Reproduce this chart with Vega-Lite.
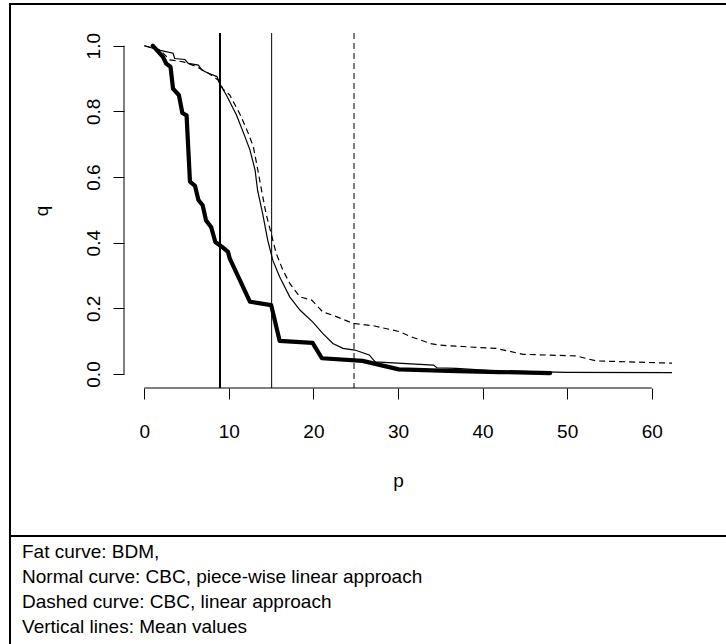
{
  "$schema": "https://vega.github.io/schema/vega-lite/v6.json",
  "width": 548,
  "height": 355,
  "autosize": {"type": "none"},
  "padding": {"left": 124, "top": 33, "right": 54, "bottom": 256},
  "background": "white",
  "config": {
    "view": {"stroke": null},
    "font": "Liberation Sans",
    "axis": {
      "domain": false,
      "grid": false,
      "tickColor": "black",
      "tickSize": 11,
      "tickWidth": 1,
      "labelColor": "black",
      "labelFont": "Liberation Sans",
      "labelFontSize": 19,
      "titleFont": "Liberation Sans",
      "titleFontSize": 19,
      "titleFontWeight": "normal",
      "titleColor": "black",
      "labelFlush": false,
      "labelOverlap": false
    }
  },
  "datasets": {
    "bdm": [{"p":1.0,"q":1.0},{"p":2.2,"q":0.966},{"p":2.6,"q":0.945},{"p":3.1,"q":0.936},{"p":3.4,"q":0.869},{"p":4.1,"q":0.849},{"p":4.5,"q":0.795},{"p":5.0,"q":0.788},{"p":5.4,"q":0.586},{"p":6.0,"q":0.573},{"p":6.4,"q":0.53},{"p":6.9,"q":0.514},{"p":7.3,"q":0.468},{"p":7.9,"q":0.448},{"p":8.4,"q":0.402},{"p":9.2,"q":0.387},{"p":9.9,"q":0.372},{"p":10.1,"q":0.352},{"p":12.5,"q":0.22},{"p":15.0,"q":0.21},{"p":16.0,"q":0.101},{"p":19.9,"q":0.095},{"p":21.0,"q":0.048},{"p":25.8,"q":0.04},{"p":30.1,"q":0.014},{"p":37,"q":0.009},{"p":42,"q":0.006},{"p":48,"q":0.003}],
    "pwl": [{"p":0,"q":1.0},{"p":1.9,"q":0.986},{"p":3.4,"q":0.977},{"p":3.6,"q":0.961},{"p":4.8,"q":0.958},{"p":5.2,"q":0.946},{"p":6.4,"q":0.941},{"p":6.8,"q":0.926},{"p":7.6,"q":0.916},{"p":8.6,"q":0.906},{"p":8.9,"q":0.885},{"p":9.7,"q":0.85},{"p":10.9,"q":0.789},{"p":11.9,"q":0.723},{"p":12.5,"q":0.682},{"p":13.1,"q":0.621},{"p":13.4,"q":0.559},{"p":14.0,"q":0.488},{"p":14.6,"q":0.407},{"p":15.2,"q":0.346},{"p":16.0,"q":0.296},{"p":17.2,"q":0.235},{"p":18.4,"q":0.195},{"p":19.9,"q":0.159},{"p":21.1,"q":0.124},{"p":22.3,"q":0.093},{"p":23.5,"q":0.078},{"p":24.9,"q":0.073},{"p":26.6,"q":0.058},{"p":27.3,"q":0.037},{"p":34.2,"q":0.027},{"p":34.6,"q":0.019},{"p":36.9,"q":0.017},{"p":42,"q":0.009},{"p":50,"q":0.005},{"p":62.4,"q":0.004}],
    "lin": [{"p":0,"q":1.0},{"p":1.85,"q":0.987},{"p":3.0,"q":0.957},{"p":4.6,"q":0.951},{"p":6.2,"q":0.936},{"p":7.6,"q":0.916},{"p":8.75,"q":0.895},{"p":9.3,"q":0.868},{"p":10.1,"q":0.85},{"p":11.3,"q":0.792},{"p":12.3,"q":0.733},{"p":12.9,"q":0.692},{"p":13.5,"q":0.611},{"p":13.9,"q":0.555},{"p":14.4,"q":0.488},{"p":15.0,"q":0.428},{"p":15.6,"q":0.367},{"p":16.4,"q":0.316},{"p":17.2,"q":0.276},{"p":18.4,"q":0.235},{"p":19.8,"q":0.225},{"p":21.1,"q":0.189},{"p":22.3,"q":0.179},{"p":24.7,"q":0.154},{"p":27.1,"q":0.147},{"p":30.2,"q":0.129},{"p":31.4,"q":0.115},{"p":33.8,"q":0.093},{"p":34.9,"q":0.088},{"p":38.1,"q":0.083},{"p":41.6,"q":0.078},{"p":44.8,"q":0.06},{"p":51.1,"q":0.055},{"p":53.4,"q":0.04},{"p":62.4,"q":0.033}],
    "means": [{"method":"BDM","p":8.95},{"method":"PWL","p":15.06},{"method":"LIN","p":24.8}],
    "caption": [{"lines": ["Fat curve: BDM,", "Normal curve: CBC, piece-wise linear approach", "Dashed curve: CBC, linear approach", "Vertical lines: Mean values"]}]
  },
  "layer": [
    {
      "data": {"name": "bdm"},
      "mark": {"type": "line", "color": "black", "strokeWidth": 4.2, "strokeCap": "round", "strokeJoin": "round"},
      "encoding": {
        "x": {"field": "p", "type": "quantitative", "scale": {"domain": [-2.4, 62.4], "nice": false, "zero": false},
          "axis": {"values": [0, 10, 20, 30, 40, 50, 60], "format": "d", "title": "p", "labelPadding": 38, "labelBaseline": "alphabetic", "labelAlign": "center", "titleBaseline": "alphabetic", "titleY": 98}},
        "y": {"field": "q", "type": "quantitative", "scale": {"domain": [-0.0426, 1.0387], "nice": false, "zero": false},
          "axis": {"values": [0, 0.2, 0.4, 0.6, 0.8, 1.0], "format": ".1f", "title": "q", "labelAngle": -90, "labelAlign": "center", "labelBaseline": "alphabetic", "labelPadding": 14, "titleAngle": -90, "titleBaseline": "alphabetic", "titleX": -77}}
      }
    },
    {
      "data": {"name": "pwl"},
      "mark": {"type": "line", "color": "black", "strokeWidth": 1.2},
      "encoding": {
        "x": {"field": "p", "type": "quantitative"},
        "y": {"field": "q", "type": "quantitative"}
      }
    },
    {
      "data": {"name": "lin"},
      "mark": {"type": "line", "color": "black", "strokeWidth": 1.2, "strokeDash": [6, 4]},
      "encoding": {
        "x": {"field": "p", "type": "quantitative"},
        "y": {"field": "q", "type": "quantitative"}
      }
    },
    {
      "data": {"name": "means"},
      "transform": [{"filter": "datum.method == 'BDM'"}],
      "mark": {"type": "rule", "color": "black", "strokeWidth": 2},
      "encoding": {
        "x": {"field": "p", "type": "quantitative"}
      }
    },
    {
      "data": {"name": "means"},
      "transform": [{"filter": "datum.method == 'PWL'"}],
      "mark": {"type": "rule", "color": "black", "strokeWidth": 1},
      "encoding": {
        "x": {"field": "p", "type": "quantitative"}
      }
    },
    {
      "data": {"name": "means"},
      "transform": [{"filter": "datum.method == 'LIN'"}],
      "mark": {"type": "rule", "color": "black", "strokeWidth": 1, "strokeDash": [6, 4]},
      "encoding": {
        "x": {"field": "p", "type": "quantitative"}
      }
    },
    {
      "data": {"values": [{}]},
      "mark": {"type": "rule", "color": "black", "strokeWidth": 1},
      "encoding": {
        "x": {"datum": 0, "type": "quantitative"},
        "x2": {"datum": 60},
        "y": {"datum": -0.0426, "type": "quantitative"}
      }
    },
    {
      "data": {"values": [{}]},
      "mark": {"type": "rule", "color": "black", "strokeWidth": 1},
      "encoding": {
        "x": {"datum": -2.4, "type": "quantitative"},
        "y": {"datum": 0, "type": "quantitative"},
        "y2": {"datum": 1}
      }
    },
    {
      "data": {"values": [{}]},
      "mark": {"type": "rule", "color": "black", "strokeWidth": 2, "strokeCap": "butt"},
      "encoding": {
        "x": {"datum": -16.0, "type": "quantitative"},
        "x2": {"datum": 70},
        "y": {"datum": 1.127, "type": "quantitative"}
      }
    },
    {
      "data": {"values": [{}]},
      "mark": {"type": "rule", "color": "black", "strokeWidth": 2, "strokeCap": "butt"},
      "encoding": {
        "x": {"datum": -15.88, "type": "quantitative"},
        "y": {"datum": 1.13, "type": "quantitative"},
        "y2": {"datum": -0.83}
      }
    },
    {
      "data": {"values": [{}]},
      "mark": {"type": "rule", "color": "black", "strokeWidth": 2, "strokeCap": "butt"},
      "encoding": {
        "x": {"datum": -16.0, "type": "quantitative"},
        "x2": {"datum": 70},
        "y": {"datum": -0.4934, "type": "quantitative"}
      }
    },
    {
      "data": {"name": "caption"},
      "mark": {"type": "text", "align": "left", "baseline": "alphabetic", "fontSize": 19, "lineHeight": 25.2, "color": "black", "font": "Liberation Sans"},
      "encoding": {
        "text": {"field": "lines"},
        "x": {"datum": -14.46, "type": "quantitative"},
        "y": {"datum": -0.5589, "type": "quantitative"}
      }
    }
  ]
}
